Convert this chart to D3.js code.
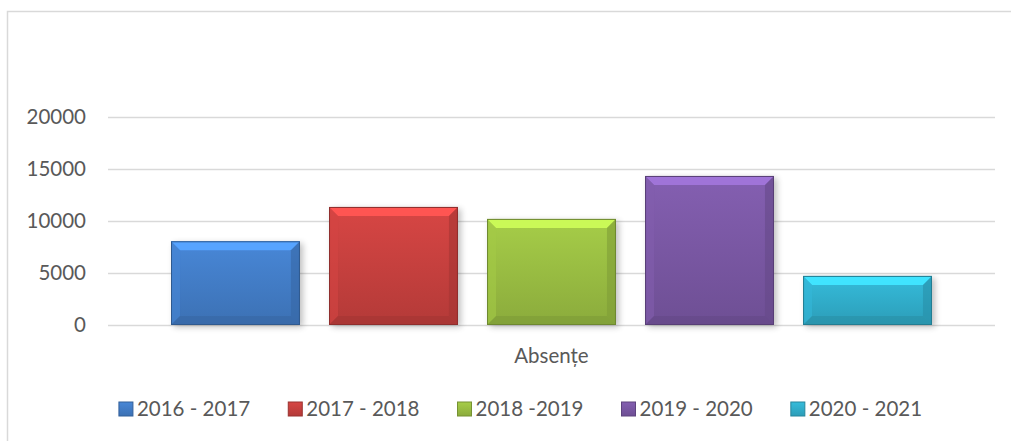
<!DOCTYPE html>
<html>
<head>
<meta charset="utf-8">
<script src="https://cdn.jsdelivr.net/npm/d3@7"></script>
<style>
  body { margin: 0; background: #fff; }
  svg { display: block; font-family: Lato, "Open Sans", sans-serif; }
</style>
</head>
<body>
<svg id="chart" width="1011" height="441"></svg>
<script>
const category = "Absențe";
const seriesNames = ["2016 - 2017", "2017 - 2018", "2018 -2019", "2019 - 2020", "2020 - 2021"];
const seriesValues = [8050, 11350, 10200, 14330, 4720];
const seriesColors = ["#4480cc", "#cc4240", "#9dc244", "#7d5aa8", "#32b2d0"];
const yTicks = [0, 5000, 10000, 15000, 20000];

const svg = d3.select("#chart");
const W = 1011, H = 441;
const margin = {left: 108, right: 16, top: 117, bottom: 116};
const plotW = W - margin.left - margin.right;
const plotH = H - margin.top - margin.bottom;
const fontSize = "20.5px";

// chart area border (right/bottom edge runs off the picture)
svg.append("rect")
  .attr("x", 7.5).attr("y", 11.5)
  .attr("width", 1020).attr("height", 450)
  .attr("fill", "none").attr("stroke", "#d9d9d9").attr("stroke-width", 1.5);

const defs = svg.append("defs");
const shadow = defs.append("filter").attr("id", "shadow")
  .attr("x", "-10%").attr("y", "-10%").attr("width", "130%").attr("height", "130%");
shadow.append("feGaussianBlur").attr("in", "SourceAlpha").attr("stdDeviation", 3);
shadow.append("feOffset").attr("dx", 3).attr("dy", 2).attr("result", "b");
shadow.append("feComponentTransfer").append("feFuncA").attr("type", "linear").attr("slope", 0.25);

seriesColors.forEach((c, i) => {
  const g = defs.append("linearGradient").attr("id", "grad" + i)
    .attr("x1", 0).attr("y1", 0).attr("x2", 0).attr("y2", 1);
  g.append("stop").attr("offset", "0%").attr("stop-color", d3.color(c).brighter(0.15));
  g.append("stop").attr("offset", "100%").attr("stop-color", d3.color(c).darker(0.35));
});

const g = svg.append("g").attr("transform", `translate(${margin.left},${margin.top})`);

const y = d3.scaleLinear().domain([0, 20000]).range([plotH, 0]);
const x0 = d3.scaleBand().domain([category]).range([0, plotW]).paddingOuter(0.0828);
const x1 = d3.scaleBand().domain(seriesNames).range([0, x0.bandwidth()]).paddingInner(0.184);

// gridlines
g.append("g")
  .call(d3.axisLeft(y).tickValues(yTicks).tickSize(-plotW).tickFormat(d => d))
  .call(a => a.select(".domain").remove())
  .call(a => a.selectAll(".tick line").attr("stroke", "#d9d9d9").attr("stroke-width", 1.5))
  .call(a => a.selectAll(".tick text")
    .attr("x", -22).attr("fill", "#595959")
    .style("font-size", fontSize).style("font-family", "Lato, sans-serif"));

// bars
const bevel = 9;
const bars = g.append("g").selectAll("g.bar")
  .data(seriesNames.map((s, i) => ({name: s, value: seriesValues[i], i})))
  .join("g").attr("class", "bar")
  .attr("transform", d => `translate(${x0(category) + x1(d.name)},${y(d.value)})`);

const bw = x1.bandwidth();
bars.append("rect")
  .attr("width", bw).attr("height", d => plotH - y(d.value))
  .attr("fill", "#000").attr("filter", "url(#shadow)");
bars.append("rect")
  .attr("width", bw).attr("height", d => plotH - y(d.value))
  .attr("fill", d => `url(#grad${d.i})`);

const poly = pts => pts.map(p => p.join(",")).join(" ");
// top bevel
bars.append("polygon")
  .attr("points", d => poly([[0, 0], [bw, 0], [bw - bevel, bevel], [bevel, bevel]]))
  .attr("fill", d => d3.color(seriesColors[d.i]).brighter(0.7));
// left bevel
bars.append("polygon")
  .attr("points", d => { const h = plotH - y(d.value); return poly([[0, 0], [bevel, bevel], [bevel, h - bevel], [0, h]]); })
  .attr("fill", d => d3.color(seriesColors[d.i]).brighter(0.1)).attr("opacity", 0.6);
// right bevel
bars.append("polygon")
  .attr("points", d => { const h = plotH - y(d.value); return poly([[bw, 0], [bw - bevel, bevel], [bw - bevel, h - bevel], [bw, h]]); })
  .attr("fill", d => d3.color(seriesColors[d.i]).darker(0.6)).attr("opacity", 0.6);
// bottom bevel
bars.append("polygon")
  .attr("points", d => { const h = plotH - y(d.value); return poly([[0, h], [bevel, h - bevel], [bw - bevel, h - bevel], [bw, h]]); })
  .attr("fill", d => d3.color(seriesColors[d.i]).darker(0.7)).attr("opacity", 0.5);
// outline
bars.append("rect")
  .attr("x", 0.5).attr("y", 0.5)
  .attr("width", bw - 1).attr("height", d => plotH - y(d.value) - 1)
  .attr("fill", "none").attr("stroke", d => d3.color(seriesColors[d.i]).darker(1)).attr("stroke-width", 1);

// category label
svg.append("text")
  .attr("x", margin.left + x0(category) + x0.bandwidth() / 2).attr("y", 363)
  .attr("text-anchor", "middle").attr("fill", "#595959")
  .style("font-size", fontSize).text(category);

// legend
const legend = svg.append("g").attr("transform", "translate(0,409)");
const items = legend.selectAll("g").data(seriesNames).join("g");
items.append("rect")
  .attr("y", -7).attr("width", 14).attr("height", 14)
  .attr("fill", (d, i) => `url(#grad${i})`)
  .attr("stroke", (d, i) => d3.color(seriesColors[i]).darker(0.8)).attr("stroke-width", 1);
items.append("text")
  .attr("x", 18).attr("y", 7).attr("fill", "#595959")
  .style("font-size", fontSize).text(d => d);
let lx = 0;
const gap = 38;
items.each(function () {
  const w = this.getBBox().width;
  d3.select(this).attr("transform", `translate(${lx},0)`);
  lx += w + gap;
});
const totalW = lx - gap;
legend.attr("transform", `translate(${520.5 - totalW / 2},409)`);
</script>
</body>
</html>
